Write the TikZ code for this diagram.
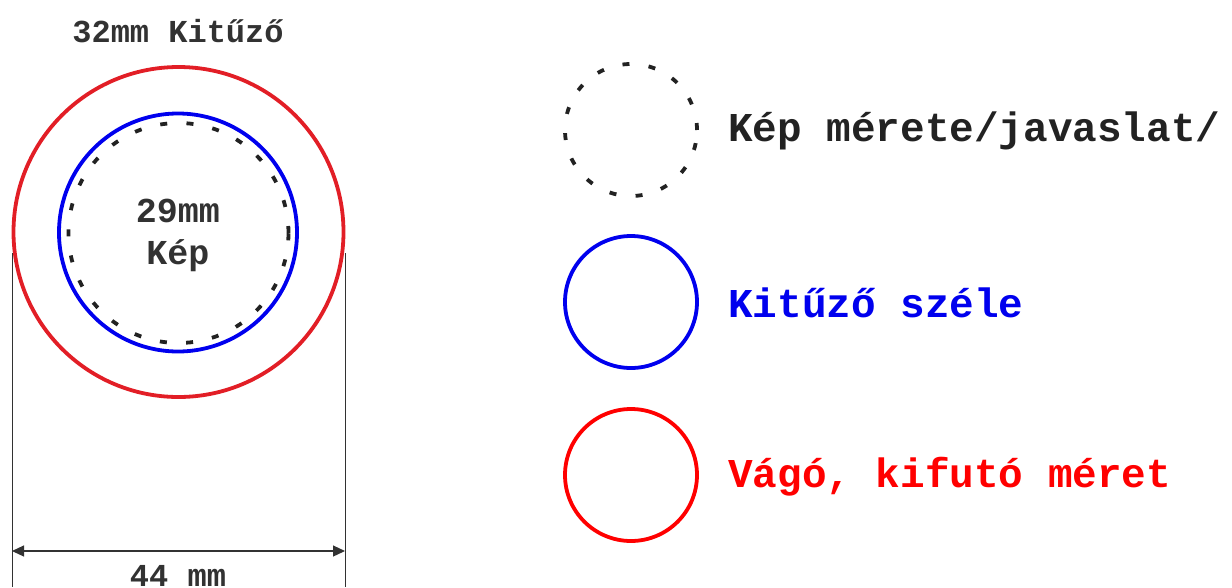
\documentclass[tikz,border=0pt]{standalone}
\usepackage{fontspec}
\setmonofont{Liberation Mono}
\usetikzlibrary{arrows.meta}
\definecolor{cred}{RGB}{226,30,38}
\definecolor{lred}{RGB}{255,0,0}
\definecolor{cblue}{RGB}{0,0,238}
\definecolor{ink}{RGB}{34,34,34}
\definecolor{dimc}{RGB}{50,50,50}
\begin{document}
\begin{tikzpicture}[x=1pt,y=-1pt,
  ring/.style={circle,draw,line width=3.8pt,inner sep=0pt},
  dotring/.style={ring,draw=ink,dash pattern=on 7pt off 19.3pt},
  lbl/.style={font=\ttfamily\bfseries\fontsize{41}{45}\selectfont,anchor=base west,inner sep=0pt},
  small/.style={font=\ttfamily\bfseries\fontsize{32}{36}\selectfont,anchor=base,inner sep=0pt,text=dimc},
  mid/.style={font=\ttfamily\bfseries\fontsize{35}{38}\selectfont,anchor=base,inner sep=0pt,text=dimc},
  dimline/.style={draw=dimc,line width=1pt},
  dimarrow/.style={draw=dimc,line width=1.2pt,{Triangle[length=12pt,width=11pt]}-{Triangle[length=12pt,width=11pt]}}
  ]
\useasboundingbox (0,0) rectangle (1232,587);
% main badge
\node[ring,draw=cred,minimum size=330pt] (outer) at (178.5,232) {};
\node[ring,draw=cblue,minimum size=238pt] (edge) at (178,232.5) {};
\node[dotring,minimum size=220pt] (pic) at (178.5,233) {};
\node[small] (title) at (178,42) {32mm Kitűző};
\node[mid] (size) at (178,222) {29mm};
\node[mid] (kep) at (178,264) {Kép};
% dimension
\coordinate (l1) at (12,253);
\coordinate (l2) at (12,587);
\coordinate (r1) at (345,253);
\coordinate (r2) at (345,587);
\coordinate (al) at (12,551);
\coordinate (ar) at (345,551);
\draw[dimline] (l1) -- (l2);
\draw[dimline] (r1) -- (r2);
\draw[dimarrow] (al) -- (ar);
\node[small] (dim) at (178,586) {44 mm};
% legend
\node[dotring,minimum size=132pt] (lg1) at (631,130) {};
\node[ring,draw=cblue,minimum size=132pt] (lg2) at (631,302) {};
\node[ring,draw=lred,minimum size=132pt] (lg3) at (631,475) {};
\node[lbl,text=ink] (t1) at (728,141) {Kép mérete/javaslat/};
\node[lbl,text=cblue] (t2) at (728,317) {Kitűző széle};
\node[lbl,text=lred] (t3) at (728,487) {Vágó, kifutó méret};
\end{tikzpicture}
\end{document}
